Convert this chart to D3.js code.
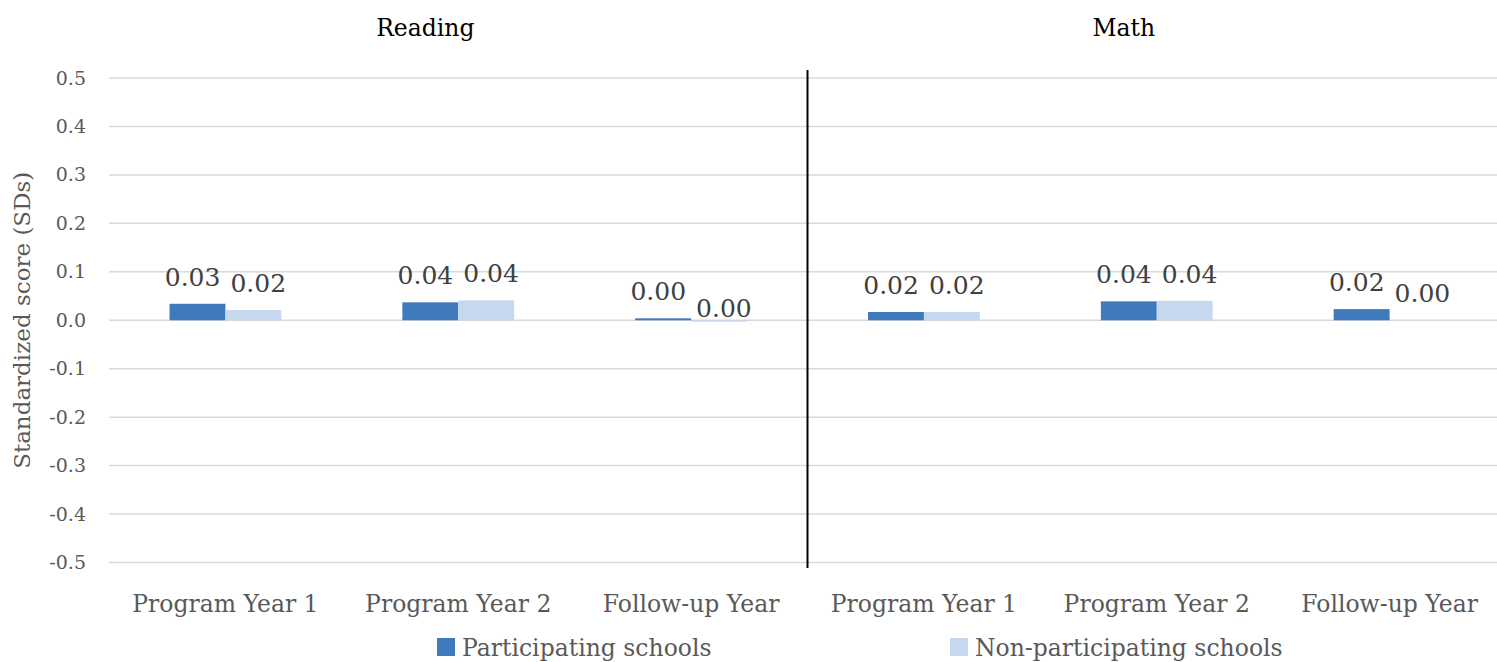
<!DOCTYPE html>
<html>
<head>
<meta charset="utf-8">
<script src="https://cdn.jsdelivr.net/npm/d3@7"></script>
<style>
  body { margin: 0; background: #fff; }
  text { font-family: "DejaVu Serif", "Liberation Serif", serif; }
</style>
</head>
<body>
<svg id="chart" width="1497" height="662"></svg>
<script>
// data
const subjects = ["Reading", "Math"];
const years = ["Program Year 1", "Program Year 2", "Follow-up Year"];
const seriesNames = ["Participating schools", "Non-participating schools"];
const participating = [0.034, 0.037, 0.004, 0.017, 0.039, 0.023];
const nonParticipating = [0.021, 0.041, -0.001, 0.017, 0.040, 0.0];
const yTicks = [-0.5, -0.4, -0.3, -0.2, -0.1, 0.0, 0.1, 0.2, 0.3, 0.4, 0.5];

const colors = ["#3f7abd", "#c5d8f0"];
const hyphen = (s) => s.replace("\u2212", "-");

const svg = d3.select("#chart");
const margin = { top: 78, left: 109, right: -9, bottom: 99 };
const width = +svg.attr("width");
const height = +svg.attr("height");

// one slot per subject/year pair
const slots = [];
subjects.forEach((s, si) => {
  years.forEach((y, yi) => {
    const i = si * years.length + yi;
    slots.push({ key: s + "|" + y, subject: s, year: y, values: [participating[i], nonParticipating[i]] });
  });
});

const xScale = d3.scaleBand()
  .domain(slots.map((d) => d.key))
  .range([margin.left, width - margin.right])
  .paddingInner(0.52)
  .paddingOuter(0.26);

const xInner = d3.scaleBand()
  .domain([0, 1])
  .range([0, xScale.bandwidth()]);

const yScale = d3.scaleLinear()
  .domain([-0.5, 0.5])
  .range([height - margin.bottom - 0.5, margin.top]);

// grid
svg.append("g")
  .selectAll("line")
  .data(yTicks)
  .enter().append("line")
  .attr("x1", margin.left)
  .attr("x2", width - margin.right)
  .attr("y1", (d) => yScale(d))
  .attr("y2", (d) => yScale(d))
  .attr("stroke", "#d9d9d9")
  .attr("stroke-width", 1.5);

// y axis labels
const yAxis = d3.axisLeft(yScale)
  .tickValues(yTicks)
  .tickFormat((d) => hyphen(d3.format(".1f")(d)))
  .tickSize(0)
  .tickPadding(23);

const yG = svg.append("g")
  .attr("transform", "translate(" + margin.left + ",0)")
  .call(yAxis);
yG.select(".domain").remove();
yG.selectAll("text")
  .attr("fill", "#595959")
  .style("font-size", "19px");

// y axis title
svg.append("text")
  .attr("transform", "translate(30," + yScale(0) + ") rotate(-90)")
  .attr("text-anchor", "middle")
  .attr("fill", "#595959")
  .style("font-size", "23px")
  .text("Standardized score (SDs)");

// bars
const groups = svg.append("g")
  .selectAll("g")
  .data(slots)
  .enter().append("g")
  .attr("transform", (d) => "translate(" + xScale(d.key) + ",0)");

groups.selectAll("rect")
  .data((d) => d.values)
  .enter().append("rect")
  .attr("x", (v, i) => xInner(i))
  .attr("width", xInner.bandwidth())
  .attr("y", (v) => yScale(Math.max(v, 0)))
  .attr("height", (v) => (v === 0 ? 0 : Math.max(Math.abs(yScale(v) - yScale(0)), 1.5)))
  .attr("fill", (v, i) => colors[i]);

const labelSize = 25;
groups.selectAll("text.val")
  .data((d) => d.values)
  .enter().append("text")
  .attr("class", "val")
  .attr("x", (v, i) => xInner(i) + xInner.bandwidth() / 2)
  .attr("y", (v) => (v < 0 ? yScale(0) - 3 : yScale(v) - 18))
  .attr("text-anchor", "middle")
  .attr("fill", "#404040")
  .style("font-size", labelSize + "px")
  .text((v) => d3.format(".2f")(Math.abs(v) < 0.005 ? 0 : v));

// push apart the two labels of a pair when they collide
groups.each(function () {
  const t = d3.select(this).selectAll("text.val").nodes();
  const w0 = t[0].getComputedTextLength();
  const w1 = t[1].getComputedTextLength();
  const dy = Math.abs(+t[0].getAttribute("y") - +t[1].getAttribute("y"));
  const need = (w0 + w1) / 2 + 10;
  const have = xInner.step();
  if (dy < labelSize && need > have) {
    const shift = (need - have) / 2;
    t[0].setAttribute("x", +t[0].getAttribute("x") - shift);
    t[1].setAttribute("x", +t[1].getAttribute("x") + shift);
  }
});

// category labels
const xAxis = d3.axisBottom(xScale)
  .tickFormat((k) => k.split("|")[1])
  .tickSize(0)
  .tickPadding(0);
const xG = svg.append("g")
  .attr("transform", "translate(0," + 612 + ")")
  .call(xAxis);
xG.select(".domain").remove();
xG.selectAll("text")
  .attr("dy", 0)
  .attr("fill", "#595959")
  .style("font-size", "23.5px");

// divider between subjects
const step = xScale.step();
const divX = xScale(slots[years.length].key) - (step - xScale.bandwidth()) / 2;
svg.append("line")
  .attr("x1", divX).attr("x2", divX)
  .attr("y1", 70).attr("y2", 568)
  .attr("stroke", "#000")
  .attr("stroke-width", 2);

// subject titles, over the middle year's first bar
svg.append("g")
  .selectAll("text")
  .data(subjects)
  .enter().append("text")
  .attr("x", (s) => xScale(s + "|" + years[1]) + xInner(0) + xInner.bandwidth() / 2 - 5)
  .attr("y", 36)
  .attr("text-anchor", "middle")
  .attr("fill", "#000")
  .style("font-size", "23.5px")
  .text((s) => s);

// legend
const legendX = [437, 950];
const legend = svg.append("g")
  .selectAll("g")
  .data(seriesNames)
  .enter().append("g")
  .attr("transform", (d, i) => "translate(" + legendX[i] + ",638)");
legend.append("rect")
  .attr("width", 18).attr("height", 18)
  .attr("fill", (d, i) => colors[i]);
legend.append("text")
  .attr("x", 25)
  .attr("y", 18)
  .attr("fill", "#595959")
  .style("font-size", "23.5px")
  .text((d) => d);
</script>
</body>
</html>
